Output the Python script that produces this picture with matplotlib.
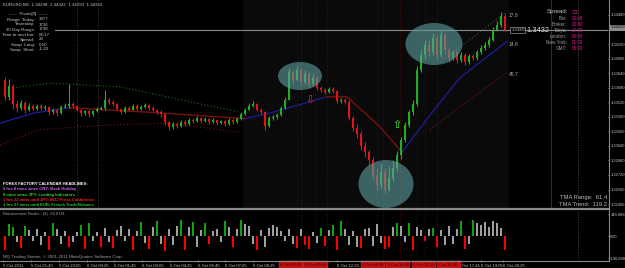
import numpy as np
import matplotlib
matplotlib.use("Agg")
import matplotlib.pyplot as plt
from matplotlib.patches import Ellipse, Rectangle
from matplotlib.transforms import blended_transform_factory

W, H = 625, 268
FONT = ["Liberation Sans Narrow", "Liberation Sans"]
FONTW = ["Liberation Sans"]

# ---------------- data ----------------
first_open = 1.3376
closes = [1.3358, 1.3370, 1.3350, 1.3346, 1.3351, 1.3344, 1.3348, 1.3345, 1.3348, 1.3346,
          1.3347, 1.3341, 1.3344, 1.3340, 1.3347, 1.3348, 1.3350, 1.3348, 1.3344, 1.3340,
          1.3342, 1.3339, 1.3342, 1.3345, 1.3346, 1.3355, 1.3352, 1.3350, 1.3345, 1.3341,
          1.3346, 1.3344, 1.3348, 1.3345, 1.3347, 1.3349, 1.3346, 1.3344, 1.3341, 1.3339,
          1.3330, 1.3325, 1.3328, 1.3326, 1.3330, 1.3328, 1.3333, 1.3331, 1.3335, 1.3331,
          1.3334, 1.3330, 1.3333, 1.3329, 1.3331, 1.3328, 1.3333, 1.3330, 1.3334, 1.3339,
          1.3344, 1.3348, 1.3350, 1.3344, 1.3341, 1.3326, 1.3335, 1.3336, 1.3338, 1.3346,
          1.3355, 1.3385, 1.3377, 1.3388, 1.3374, 1.3383, 1.3372, 1.3379, 1.3368, 1.3366,
          1.3363, 1.3367, 1.3364, 1.3353, 1.3355, 1.3352, 1.3335, 1.3324, 1.3317, 1.3304,
          1.3297, 1.3289, 1.3272, 1.3261, 1.3275, 1.3256, 1.3269, 1.3280, 1.3294, 1.3311,
          1.3327, 1.3341, 1.3350, 1.3388, 1.3404, 1.3415, 1.3407, 1.3423, 1.3404, 1.3426,
          1.3410, 1.3401, 1.3407, 1.3399, 1.3404, 1.3396, 1.3403, 1.3401, 1.3407, 1.3412,
          1.3415, 1.3421, 1.3432, 1.3437, 1.3447, 1.3432]
highs = [1.3380, 1.3378, 1.3372, 1.3353, 1.3354, 1.3353, 1.3351, 1.3350, 1.3350, 1.3350,
         1.3349, 1.3348, 1.3346, 1.3346, 1.3349, 1.3351, 1.3372, 1.3352, 1.3349, 1.3345,
         1.3344, 1.3344, 1.3344, 1.3347, 1.3348, 1.3365, 1.3357, 1.3354, 1.3351, 1.3346,
         1.3348, 1.3348, 1.3350, 1.3350, 1.3349, 1.3351, 1.3350, 1.3348, 1.3345, 1.3343,
         1.3340, 1.3331, 1.3330, 1.3330, 1.3332, 1.3332, 1.3335, 1.3335, 1.3337, 1.3336,
         1.3336, 1.3335, 1.3335, 1.3334, 1.3333, 1.3332, 1.3335, 1.3334, 1.3336, 1.3341,
         1.3346, 1.3351, 1.3353, 1.3351, 1.3346, 1.3342, 1.3337, 1.3338, 1.3340, 1.3348,
         1.3358, 1.3390, 1.3388, 1.3392, 1.3390, 1.3387, 1.3385, 1.3383, 1.3381, 1.3370,
         1.3368, 1.3369, 1.3369, 1.3365, 1.3357, 1.3357, 1.3354, 1.3337, 1.3328, 1.3320,
         1.3308, 1.3300, 1.3292, 1.3280, 1.3285, 1.3280, 1.3282, 1.3288, 1.3298, 1.3314,
         1.3330, 1.3344, 1.3354, 1.3392, 1.3410, 1.3420, 1.3420, 1.3428, 1.3426, 1.3430,
         1.3428, 1.3413, 1.3410, 1.3409, 1.3407, 1.3406, 1.3405, 1.3405, 1.3409, 1.3415,
         1.3418, 1.3424, 1.3435, 1.3441, 1.3451, 1.3449]
lows = [1.3355, 1.3355, 1.3345, 1.3341, 1.3343, 1.3340, 1.3342, 1.3343, 1.3343, 1.3344,
        1.3344, 1.3338, 1.3339, 1.3337, 1.3339, 1.3346, 1.3346, 1.3346, 1.3342, 1.3337,
        1.3338, 1.3336, 1.3337, 1.3341, 1.3343, 1.3344, 1.3350, 1.3348, 1.3343, 1.3339,
        1.3340, 1.3342, 1.3343, 1.3343, 1.3344, 1.3346, 1.3344, 1.3342, 1.3339, 1.3336,
        1.3327, 1.3321, 1.3323, 1.3324, 1.3325, 1.3326, 1.3327, 1.3329, 1.3330, 1.3329,
        1.3330, 1.3328, 1.3329, 1.3327, 1.3328, 1.3326, 1.3327, 1.3328, 1.3329, 1.3333,
        1.3338, 1.3343, 1.3347, 1.3342, 1.3339, 1.3322, 1.3325, 1.3333, 1.3334, 1.3337,
        1.3345, 1.3354, 1.3372, 1.3375, 1.3370, 1.3372, 1.3368, 1.3370, 1.3365, 1.3363,
        1.3361, 1.3362, 1.3362, 1.3351, 1.3351, 1.3350, 1.3332, 1.3320, 1.3313, 1.3300,
        1.3292, 1.3283, 1.3266, 1.3255, 1.3258, 1.3252, 1.3254, 1.3265, 1.3276, 1.3290,
        1.3308, 1.3325, 1.3338, 1.3348, 1.3385, 1.3400, 1.3402, 1.3404, 1.3398, 1.3402,
        1.3405, 1.3396, 1.3398, 1.3395, 1.3396, 1.3393, 1.3394, 1.3398, 1.3399, 1.3405,
        1.3410, 1.3413, 1.3419, 1.3430, 1.3435, 1.3430]

# Retracement Finder histogram
retr_values = [-90, 80, 60, -40, -80, 70, 40, -30, 50, -60,
               30, -95, 90, 45, -50, 35, -70, -40, 25, 75,
               -85, 85, -35, 30, -75, 55, -40, -80, 40, 65,
               -30, 50, -90, 35, 95, -45, -85, 60, 100, -50,
               -100, 45, -60, 70, 105, -90, 60, 95, -70, 40,
               90, -55, 35, 50, -40, 100, 60, -75, 45, 110,
               80, 65, -50, -95, 40, -70, 55, 75, 60, 35,
               -30, 50, -55, -80, 45, -60, -85, 30, -45, 55,
               -65, 40, 75, -90, 100, 50, -60, 35, -70, -80,
               45, 55, -65, 80, -45, -85, -70, 60, 90, 70,
               -40, 85, -95, 60, 40, -30, 50, 55, -75, 40,
               -60, 70, -50, 45, 100, -85, -55, 110, 90, 75,
               95, 60, 100, 85, 55, -90]
retr_signal = ("rggxrgxxxx" "xrgxxxrxxg" "rgxxrxxrxx" "xxrxgxrxgx"
               "rxxxgrxgxx" "grxxxgxrxg" "xxxrxxxxxx" "xxxrxrrxxg"
               "rxgrgxxxxr" "xxxxxrrxgx" "xgrxxrxgrx" "xxxxgrxgxx"
               "xxxxxr")

# TMA centre line (bar index, price) pieces, bands and end channel
tma_up1 = ([-1.25, 7, 16.25], [1.3329, 1.3340, 1.3346])
tma_dn1 = ([16.25, 36.25, 60], [1.3346, 1.3341, 1.3334])
tma_up2 = ([60, 67, 80.5], [1.3334, 1.3341, 1.3358])
tma_dn2 = ([80.5, 85.5, 93.75, 99.25], [1.3358, 1.3358, 1.3325, 1.3297])
tma_up3 = ([99.25, 106.25, 113.75, 125.5], [1.3297, 1.3338, 1.3379, 1.3419])
band_upper = ([2, 11.25, 28.75, 43.75, 58.75], [1.3368, 1.3373, 1.3369, 1.3355, 1.3341])
band_lower = ([-1.25, 8.75, 26.25, 41.25, 58.75], [1.3305, 1.3322, 1.3327, 1.3329, 1.3319])
chan_upper = ([108.75, 125], [1.3396, 1.3450])
chan_lower = ([106.25, 113.75, 125.5], [1.3322, 1.3347, 1.3385])
chan_labels = ["17.8", "14.8", "45.7"]

price_ticks = [1.3448, 1.3432, 1.3416, 1.3400, 1.3384, 1.3368, 1.3352,
               1.3336, 1.3320, 1.3304, 1.3288, 1.3272, 1.3256, 1.3240]
bid = 1.3432
time_labels = ["5 Oct 2011", "5 Oct 21:45", "5 Oct 23:05", "6 Oct 00:25", "6 Oct 01:45",
               "6 Oct 03:05", "6 Oct 04:25", "6 Oct 05:45", "6 Oct 07:05", "6 Oct 08:25",
               "6 Oct 12:25", "6 Oct 17:45", "6 Oct 19:05", "6 Oct 20:25"]
time_label_bars = [-0.5, 6.5, 13.4, 20.4, 27.3, 34.3, 41.2, 48.2, 55.1, 62.1,
                   82.9, 113.2, 118.9, 124.6]
event_bars = [73, 74, 77.5, 80.5, 93, 94.5, 98.75, 103, 105, 108]
box_bars = [71.5, 77.6, 92, 98.3, 104.7, 111]
box_text_bars = [71.5, 77.6, 92, 98.3, 104.7, 110.5]
box_labels = ["6 Oct 09:35", "6 Oct 09:50", "6 Oct 14:05", "6 Oct 14:50",
              "6 Oct 15:35", "6 Oct 16:40"]
session_bars = [18, 23.25]
navy_bar = 136.5
gray_bar = 143.25

# ---------------- figure ----------------
fig = plt.figure(figsize=(W / 100, H / 100), dpi=100, facecolor="black")


def rect(x0, y0, x1, y1):
    return [x0 / W, 1 - y1 / H, (x1 - x0) / W, (y1 - y0) / H]


def ftxt(x, y, s, **kw):
    kw.setdefault("family", FONT)
    kw.setdefault("va", "center")
    fig.text(x / W, 1 - y / H, s, **kw)


ax = fig.add_axes(rect(0, 0, 608, 208))
ax2 = fig.add_axes(rect(0, 210, 608, 260))
for a in (ax, ax2):
    a.set_facecolor("black")
    for s in a.spines.values():
        s.set_visible(False)
    a.set_xlim(-1.25, 150.75)

ax.set_ylim(1.32357, 1.34645)
ax2.set_ylim(-160, 174)

n = len(closes)
idx = np.arange(n)
c = np.array(closes)
o = np.array([first_open] + closes[:-1])
hi = np.array(highs)
lo = np.array(lows)
up = c >= o
GREEN, RED = "#1fb01f", "#e41414"
cols = np.where(up, GREEN, RED)

# slightly lighter background zone
ax.axvspan(59.5, 126, color="#0a0a0a", zorder=0, lw=0)

# vertical lines
for b in session_bars:
    ax.axvline(b, color="#505050", lw=0.6, ls=(0, (1, 2)), zorder=1)
for b in event_bars:
    ax.axvline(b, color="#7a0000", lw=0.6, ls=(0, (1, 2)), zorder=1)
    ax2.axvline(b, color="#7a0000", lw=0.6, ls=(0, (1, 2)), zorder=1)
ax.axvline(navy_bar, color="#202090", lw=0.8, zorder=1)
ax.axvline(gray_bar, color="#606060", lw=0.6, ls=(0, (1, 2)), zorder=1)
ax2.axvline(gray_bar, color="#606060", lw=0.6, ls=(0, (1, 2)), zorder=1)

# TMA lines
for seg in (tma_up1, tma_up2, tma_up3):
    ax.plot(*seg, color="#1c1c8c", lw=1.0, zorder=2)
for seg in (tma_dn1, tma_dn2):
    ax.plot(*seg, color="#7a1010", lw=1.0, zorder=2)
ax.plot(*band_upper, color="#1d6a1d", lw=0.8, ls=(0, (1, 2)), zorder=2)
ax.plot(*band_lower, color="#7a1515", lw=0.8, ls=(0, (1, 2)), zorder=2)
ax.plot(*chan_upper, color="#3a5a3a", lw=0.8, ls=(0, (1, 2)), zorder=2)
ax.plot(*chan_lower, color="#7a1515", lw=0.8, ls=(0, (1, 2)), zorder=2)

# bid line
ax.axhline(bid, color="#8a8a8a", lw=0.8, zorder=2)

# candles
ax.vlines(idx, lo, hi, colors=cols, lw=0.8, zorder=3)
body_lo = np.minimum(o, c)
body_h = np.maximum(np.abs(c - o), 0.00006)
ax.bar(idx, body_h, bottom=body_lo, width=0.55, color=cols, lw=0, zorder=3)

# ellipses
for (cx, cy, w, h) in [(73.75, 1.33809, 11, 0.00308),
                       (95.25, 1.32621, 13.75, 0.00528),
                       (107.25, 1.34161, 14.25, 0.00462)]:
    ax.add_patch(Ellipse((cx, cy), w, h, facecolor="#5f9f9f", alpha=0.6, lw=0, zorder=4))

# arrows
ax.text(76.25, 1.33545, "\u21e9", color="#ff2020", fontsize=8, ha="center", va="center",
        family="DejaVu Sans", zorder=5)
ax.text(98, 1.3327, "\u21e7", color="#40ff40", fontsize=8, ha="center", va="center",
        family="DejaVu Sans", zorder=5)

# channel labels
for lab, (bx, py) in zip(chan_labels, [(126, 1.3447), (126, 1.3416), (126, 1.3383)]):
    ax.text(bx, py, lab, color="#b0b0b0", fontsize=3.6, family=FONT, va="center", zorder=5)

# price axis on the right
ax.yaxis.tick_right()
ax.set_yticks(price_ticks)
ax.set_yticklabels([f"{t:.5f}" for t in price_ticks])
ax.tick_params(axis="y", colors="#c0c0c0", labelsize=2.9, length=1.0, pad=0.6, width=0.5)
ax.tick_params(axis="x", bottom=False, labelbottom=False)
for lbl in ax.get_yticklabels():
    lbl.set_family(FONT)

ax2.yaxis.tick_right()
ax2.set_yticks([146.888, 0, -146.888])
ax2.set_yticklabels(["146.888", "0.00", "-146.888"])
ax2.tick_params(axis="y", colors="#c0c0c0", labelsize=2.9, length=1.0, pad=0.6, width=0.5)
for lbl in ax2.get_yticklabels():
    lbl.set_family(FONT)

# histogram
hcol = {"g": "#10a010", "r": "#ff0000", "x": "#a0a0a0"}
ax2.bar(idx, retr_values, width=0.45, color=[hcol[s] for s in retr_signal], lw=0, zorder=3)

# time axis labels
ax2.set_xticks(time_label_bars)
ax2.set_xticklabels(time_labels)
ax2.tick_params(axis="x", colors="#c0c0c0", labelsize=3.1, length=1.5, pad=1.2, width=0.5)
for lbl in ax2.get_xticklabels():
    lbl.set_family(FONT)
    lbl.set_ha("left")

trans = blended_transform_factory(ax2.transData, fig.transFigure)
for b, tb, lab in zip(box_bars, box_text_bars, box_labels):
    ax2.add_patch(Rectangle((b - 3.05, 0.0), 6.1, 7.0 / H, transform=trans, clip_on=False,
                            facecolor="#c01010", edgecolor="#d83030", lw=0.3, zorder=6))
    ax2.text(tb, 3.4 / H, lab, transform=trans, fontsize=3.0, color="#4a0000", family=FONT,
             ha="center", va="center", zorder=7, clip_on=False)

# frame lines
fig.add_artist(plt.Line2D([0, 608 / W], [1 - 209 / H] * 2, color="#8a8a8a", lw=1.6))
fig.add_artist(plt.Line2D([0, 608 / W], [1 - 260.5 / H] * 2, color="#8a8a8a", lw=0.8))
fig.add_artist(plt.Line2D([608.5 / W] * 2, [1 - 260.5 / H, 1], color="#8a8a8a", lw=0.8))

# current price marker on the axis
fig.add_artist(Rectangle((609 / W, 1 - 30.5 / H), 16 / W, 6 / H, transform=fig.transFigure,
                         facecolor="#8a8a8a", lw=0))
ftxt(610.5, 27.5, "1.34320", fontsize=2.9, color="black")

# price label next to last candle
fig.add_artist(Rectangle((510 / W, 1 - 33 / H), 15 / W, 6 / H, transform=fig.transFigure,
                         facecolor="black", edgecolor="#909090", lw=0.5))
ftxt(511.5, 30, "1.34320", fontsize=3.0, color="#c0c0c0")
ftxt(526, 30, "1.3432", fontsize=5.4, color="#e0e0e0", family=FONTW)

# ---------------- text panels ----------------
GRAY = "#c8c8c8"
ftxt(3, 4.5, "EURUSD,M5  1.34298  1.34322  1.34293  1.34322", fontsize=3.2, color=GRAY)
fig.add_artist(Rectangle((0, 1 - 56 / H), 55 / W, 47 / H, transform=fig.transFigure,
                         facecolor="black", lw=0))
ftxt(28, 14.5, "------  Pivots[0]  ------", fontsize=3.2, color=GRAY, ha="center")
rows = [("Range  Today:", "3377"), ("Yesterday:", "1736"), ("30 Day Range:", "1738"),
        ("Time to next bar:", "04:17"), ("Spread:", "23"), ("Swap  Long:", "0.10"),
        ("Swap  Short:", "-1.20")]
for k, (a, b) in enumerate(rows):
    y = 19.5 + 5 * k
    ftxt(35, y, a, fontsize=3.2, color=GRAY, ha="right")
    ftxt(38.5, y, b, fontsize=3.2, color=GRAY)

heads = [("FOREX FACTORY CALENDAR HEADLINES:", "#ffffff"),
         ("5 hrs 8 mins since CNY: Bank Holiday", "#d060f0"),
         ("8 mins since JPY: Leading Indicators", "#30d030"),
         ("1 hrs 32 mins until JPY: BOJ Press Conference", "#ff2020"),
         ("1 hrs 37 mins until EUR: French Trade Balance", "#30c030")]
for k, (s, col) in enumerate(heads):
    ftxt(3, 184 + 5.3 * k, s, fontsize=3.0, color=col, weight="bold", family=FONTW)

MAG = "#e0128a"
ftxt(568, 12, "Spread:", fontsize=4.4, color=GRAY, ha="right", family=FONTW)
ftxt(572, 12, "23", fontsize=4.4, color=MAG, family=FONTW)
clock = [("Bar:", "00:08"), ("Broker:", "20:40"), ("Tokyo:", "14:09"), ("London:", "06:09"),
         ("New York:", "01:09"), ("GMT:", "05:09")]
for k, (a, b) in enumerate(clock):
    y = 18.5 + 6.1 * k
    ftxt(567, y, a, fontsize=3.3, color="#a0a0a0", ha="right")
    ftxt(572, y, b, fontsize=3.3, color=MAG)

ftxt(607, 197, "TMA Range:  61.4", fontsize=4.2, color="#b8b8b8", ha="right", family=FONTW)
ftxt(607, 205, "TMA Trend:  119.2", fontsize=4.2, color="#b8b8b8", ha="right", family=FONTW)

ftxt(3, 214.5, "Retracement Finder - (4) -34.6741", fontsize=3.0, color="#a0a0a0")
ftxt(3, 257, "MQ Trading Station, \u00a9 2001-2011 MetaQuotes Software Corp.", fontsize=3.2,
     color="#a0a0a0")

fig.savefig("out.png", dpi=100, facecolor="black")
